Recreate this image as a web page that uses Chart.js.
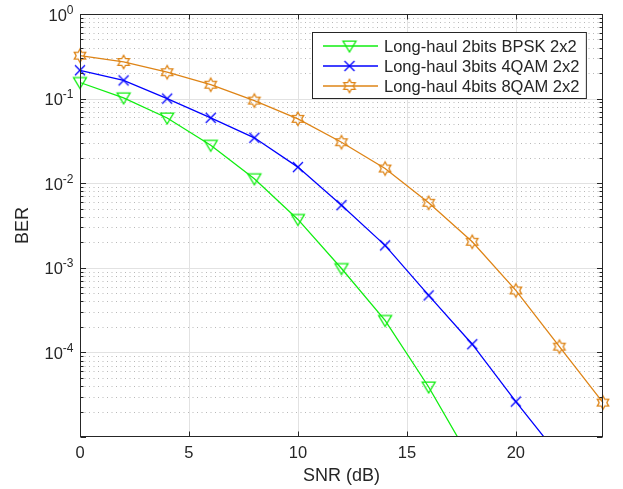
<!DOCTYPE html>
<html>
<head>
<meta charset="utf-8">
<script src="https://cdn.jsdelivr.net/npm/chart.js@4.4.1/dist/chart.umd.min.js"></script>
<style>
  html, body { margin: 0; padding: 0; background: #fff; }
  canvas { display: block; }
</style>
</head>
<body>
<canvas id="grafica" width="623" height="489"></canvas>
<script>
// datos (SNR en dB, BER)
const snrBpsk = [0, 2, 4, 6, 8, 10, 12, 14, 16, 18];
const berBpsk = [0.155, 0.102, 0.059, 0.0281, 0.0113, 0.00373, 0.00098, 0.000239, 0.000039, 0.0000050];

const snr4qam = [0, 2, 4, 6, 8, 10, 12, 14, 16, 18, 20, 22];
const ber4qam = [0.216, 0.164, 0.100, 0.0592, 0.0344, 0.0155, 0.0055, 0.00184, 0.000472, 0.000125, 0.0000262, 0.0000059];

const snr8qam = [0, 2, 4, 6, 8, 10, 12, 14, 16, 18, 20, 22, 24];
const ber8qam = [0.322, 0.271, 0.205, 0.146, 0.0947, 0.0576, 0.0305, 0.0149, 0.00587, 0.00203, 0.00054, 0.000117, 0.0000255];

const nombres = ['Long-haul 2bits BPSK 2x2', 'Long-haul 3bits 4QAM 2x2', 'Long-haul 4bits 8QAM 2x2'];
const xTicks = [0, 5, 10, 15, 20];
const yTicks = [1, 0.1, 0.01, 0.001, 0.0001];
const yExpLabels = ['0', '-1', '-2', '-3', '-4'];

const VERDE = '#11ee11';
const AZUL = '#0000ff';
const NARANJA = '#de8416';
const TEXTO = '#262626';
const FUENTE = '"Liberation Sans", Arial, Helvetica, sans-serif';

//dibuja el marcador en un canvas pequeño para usarlo como pointStyle
function crearMarcador(forma, color) {
    var c = document.createElement('canvas');
    c.width = 18; c.height = 18;
    var g = c.getContext('2d');
    g.strokeStyle = color;
    g.lineWidth = 1.3;
    g.translate(9, 9);
    g.beginPath();
    if (forma == 'triangulo') {
        g.moveTo(-6.5, -4.8); g.lineTo(6.5, -4.8); g.lineTo(0, 6); g.closePath();
    } else if (forma == 'cruz') {
        g.moveTo(-5, -5); g.lineTo(5, 5); g.moveTo(5, -5); g.lineTo(-5, 5);
    } else {
        for (var k = 0; k < 12; k++) {
            var r = k % 2 ? 3.8 : 6.6;
            var a = -Math.PI / 2 + k * Math.PI / 6;
            if (k == 0) g.moveTo(r * Math.cos(a), r * Math.sin(a));
            else g.lineTo(r * Math.cos(a), r * Math.sin(a));
        }
        g.closePath();
    }
    g.stroke();
    return c;
}

const marcadores = [crearMarcador('triangulo', VERDE), crearMarcador('cruz', AZUL), crearMarcador('hexagrama', NARANJA)];
const colores = [VERDE, AZUL, NARANJA];

function puntos(xs, ys) {
    return xs.map((x, i) => ({x: x, y: ys[i]}));
}

function serie(i, xs, ys) {
    return {
        label: nombres[i],
        data: puntos(xs, ys),
        showLine: true,
        borderColor: colores[i],
        backgroundColor: colores[i],
        borderWidth: 1.3,
        pointStyle: marcadores[i],
        pointRadius: 6,
        clip: {left: 10, top: 10, right: 10, bottom: 0}
    };
}

//rejilla: lineas mayores solidas y menores punteadas (solo en y)
const pluginRejilla = {
    id: 'rejilla',
    beforeDatasetsDraw(chart) {
        var ctx = chart.ctx, a = chart.chartArea;
        var xs = chart.scales.x, ys = chart.scales.y;
        ctx.save();
        ctx.lineWidth = 1;
        ctx.strokeStyle = '#b8b8b8';
        ctx.setLineDash([1, 3.5]);
        for (var d = -5; d < 0; d++) {
            for (var m = 2; m <= 9; m++) {
                var y = Math.round(ys.getPixelForValue(m * Math.pow(10, d))) + 0.5;
                ctx.beginPath(); ctx.moveTo(a.left, y); ctx.lineTo(a.right, y); ctx.stroke();
            }
        }
        ctx.setLineDash([]);
        ctx.strokeStyle = '#e2e2e2';
        yTicks.forEach(v => {
            var y = Math.round(ys.getPixelForValue(v)) + 0.5;
            ctx.beginPath(); ctx.moveTo(a.left, y); ctx.lineTo(a.right, y); ctx.stroke();
        });
        xTicks.forEach(v => {
            var x = Math.round(xs.getPixelForValue(v)) + 0.5;
            ctx.beginPath(); ctx.moveTo(x, a.top); ctx.lineTo(x, a.bottom); ctx.stroke();
        });
        ctx.restore();
    },
    afterDatasetsDraw(chart) {
        var ctx = chart.ctx, a = chart.chartArea;
        var xs = chart.scales.x, ys = chart.scales.y;
        var l = Math.round(a.left) + 0.5, r = Math.round(a.right) - 0.5;
        var t = Math.round(a.top) + 0.5, b = Math.round(a.bottom) - 0.5;
        ctx.save();
        ctx.strokeStyle = TEXTO;
        ctx.lineWidth = 1;
        ctx.strokeRect(l, t, r - l, b - t);
        ctx.beginPath();
        // marcas del eje x arriba y abajo
        xTicks.forEach(v => {
            var x = Math.round(xs.getPixelForValue(v)) + 0.5;
            ctx.moveTo(x, b); ctx.lineTo(x, b - 5);
            ctx.moveTo(x, t); ctx.lineTo(x, t + 5);
        });
        // marcas del eje y (mayores y menores) izquierda y derecha
        for (var d = -5; d < 0; d++) {
            for (var m = 1; m <= 9; m++) {
                var y = Math.round(ys.getPixelForValue(m * Math.pow(10, d))) + 0.5;
                var len = m == 1 ? 5.5 : 3;
                ctx.moveTo(l, y); ctx.lineTo(l + len, y);
                ctx.moveTo(r, y); ctx.lineTo(r - len, y);
            }
        }
        ctx.stroke();
        // etiquetas 10^n del eje y
        ctx.fillStyle = TEXTO;
        ctx.textBaseline = 'alphabetic';
        yTicks.forEach((v, i) => {
            var y = ys.getPixelForValue(v);
            ctx.font = '16.5px ' + FUENTE;
            var wBase = ctx.measureText('10').width;
            ctx.font = '12px ' + FUENTE;
            var wExp = ctx.measureText(yExpLabels[i]).width;
            var x0 = 73.5 - wBase - wExp;
            ctx.font = '16.5px ' + FUENTE;
            ctx.fillText('10', x0, y + 6.5);
            ctx.font = '12px ' + FUENTE;
            ctx.fillText(yExpLabels[i], x0 + wBase, y - 0.5);
        });
        ctx.restore();
    }
};

//leyenda dentro del area del grafico, con linea y marcador
const pluginLeyenda = {
    id: 'leyenda',
    afterDraw(chart) {
        var ctx = chart.ctx;
        ctx.save();
        ctx.font = '16.5px ' + FUENTE;
        var maxW = 0;
        nombres.forEach(n => { maxW = Math.max(maxW, ctx.measureText(n).width); });
        var izq = 312.5, arriba = 32.5, textoX = 384;
        var ancho = textoX + maxW + 7 - izq, alto = 66;
        ctx.fillStyle = '#fff';
        ctx.fillRect(izq, arriba, ancho, alto);
        ctx.strokeStyle = TEXTO;
        ctx.lineWidth = 1;
        ctx.strokeRect(izq, arriba, ancho, alto);
        nombres.forEach((n, i) => {
            var y = 46 + i * 20;
            ctx.strokeStyle = colores[i];
            ctx.lineWidth = 1.3;
            ctx.beginPath(); ctx.moveTo(323, y); ctx.lineTo(378, y); ctx.stroke();
            ctx.drawImage(marcadores[i], 349.5 - 9, y - 9);
            ctx.fillStyle = TEXTO;
            ctx.textBaseline = 'middle';
            ctx.fillText(n, textoX, y + 1);
        });
        ctx.restore();
    }
};

var grafica = new Chart(document.getElementById('grafica'), {
    type: 'scatter',
    data: {
        datasets: [
            serie(0, snrBpsk, berBpsk),
            serie(1, snr4qam, ber4qam),
            serie(2, snr8qam, ber8qam)
        ]
    },
    options: {
        responsive: false,
        animation: false,
        devicePixelRatio: 1,
        layout: {padding: {top: 14, right: 20, left: 0, bottom: 0}},
        plugins: {legend: {display: false}, tooltip: {enabled: false}},
        scales: {
            x: {
                type: 'linear', min: 0, max: 24,
                afterBuildTicks: s => { s.ticks = xTicks.map(v => ({value: v})); },
                afterFit: s => { s.height = 52; },
                grid: {display: false},
                border: {display: false},
                ticks: {color: TEXTO, font: {family: FUENTE, size: 16.5}, padding: -1, maxRotation: 0},
                title: {display: true, text: 'SNR (dB)', color: TEXTO, font: {family: FUENTE, size: 18}, padding: {top: 0, bottom: 2}}
            },
            y: {
                type: 'logarithmic', min: 1e-5, max: 1,
                afterFit: s => { s.width = 80; },
                grid: {display: false},
                border: {display: false},
                ticks: {display: false},
                title: {display: true, text: 'BER', color: TEXTO, font: {family: FUENTE, size: 18}, padding: {top: 12, bottom: 0}}
            }
        }
    },
    plugins: [pluginRejilla, pluginLeyenda]
});
</script>
</body>
</html>
